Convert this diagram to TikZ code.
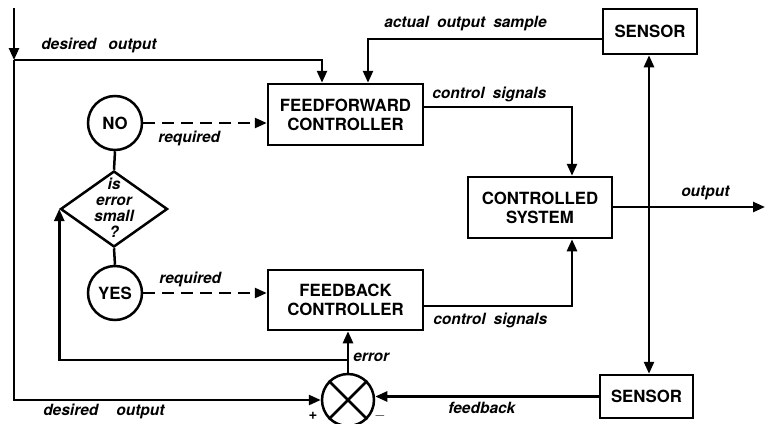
\documentclass[tikz,border=0pt]{standalone}
\usepackage{fontspec}
\setmainfont{TeX Gyre Heros}
\usetikzlibrary{arrows.meta,shapes.geometric,calc}
\newcommand\mywordsp{\spaceskip=8pt\relax}
\begin{document}
\begin{tikzpicture}[x=1pt,y=-1pt, line width=2.5pt,
  box/.style={draw, rectangle, inner sep=0pt, font=\fontsize{16.8}{19}\selectfont\bfseries, align=center},
  circ/.style={draw, circle, minimum size=54pt, inner sep=0pt, font=\fontsize{16.8}{19}\selectfont\bfseries},
  lbl/.style={inner sep=0pt, font=\fontsize{15.5}{16}\selectfont\bfseries\itshape\mywordsp},
  tip/.tip={Triangle[length=12pt,width=10pt]},
  arr/.style={-tip},
  darr/.style={tip-tip},
  dsh/.style={dash pattern=on 12pt off 7pt}]
\useasboundingbox (0,0) rectangle (765,423);
% blocks
\node[box, minimum width=155pt, minimum height=61pt] (ff) at (345.5,114.5) {FEEDFORWARD\\CONTROLLER};
\node[box, minimum width=155pt, minimum height=60pt] (fb) at (345.5,300) {FEEDBACK\\CONTROLLER};
\node[box, minimum width=144pt, minimum height=61pt] (cs) at (540,207.5) {CONTROLLED\\SYSTEM};
\node[box, minimum width=94pt, minimum height=45pt] (st) at (650,31.5) {SENSOR};
\node[box, minimum width=93pt, minimum height=43pt] (sb) at (646.5,396.5) {SENSOR};
\node[circ] (no) at (115,123) {NO};
\node[circ] (yes) at (115,293) {YES};
\node[diamond, draw, minimum width=107pt, minimum height=76pt, inner sep=0pt] (dia) at (114,209) {};
\node[inner sep=0pt, align=center, font=\fontsize{15.5}{16}\selectfont\bfseries\itshape] (diat) at (114,208) {is\\error\\small\\?};
\node[draw, circle, minimum size=52pt, inner sep=0pt] (sum) at (348,400) {};
\draw (sum.north west) -- (sum.south east);
\draw (sum.north east) -- (sum.south west);
% coordinates
\coordinate (top) at (14,8);
\coordinate (j1) at (14,60);
\coordinate (j2) at (14,400);
\coordinate (d1) at (322,60);
\coordinate (a1) at (368,39);
\coordinate (c1) at (572,107);
\coordinate (c2) at (572,306);
\coordinate (out) at (765,207);
\coordinate (v) at (649,0);
\coordinate (e1) at (348,360);
% connectors
\draw[arr] (top) -- (j1);
\draw[arr] (j1) -- (d1) -- (d1 |- ff.north);
\draw[arr] (st.west |- a1) -- (a1) -- (a1 |- ff.north);
\draw[arr] (j1) -- (j2) -- (sum.west);
\draw[arr, dsh] (no.east) -- (ff.west |- no.east);
\draw[arr, dsh] (yes.east) -- (fb.west |- yes.east);
\draw (no.south) -- (dia.north);
\draw (yes.north) -- (dia.south);
\draw[arr] (ff.east |- c1) -- (c1) -- (c1 |- cs.north);
\draw[arr] (fb.east |- c2) -- (c2) -- (c2 |- cs.south);
\draw[arr] (cs.east |- out) -- (out);
\draw[darr] (v |- st.south) -- (v |- sb.north);
\draw[arr] (sb.west) -- (sb.west -| sum.east);
\draw[arr] (sum.north) -- (sum.north |- fb.south);
\draw[arr] (e1) -| (dia.west);
% labels
\node[lbl, anchor=west] (l1) at (40,45) {desired\hspace{12pt}output};
\node[lbl, anchor=west] (l2) at (383,24) {actual output sample};
\node[lbl, anchor=west] (l3) at (431,94) {control signals};
\node[lbl, anchor=west] (l4) at (157,138) {required};
\node[lbl, anchor=west] (l5) at (158,279) {required};
\node[lbl, anchor=west] (l6) at (680,193) {output};
\node[lbl, anchor=west] (l7) at (432,320) {control signals};
\node[lbl, anchor=west] (l8) at (352,357) {error};
\node[lbl, anchor=west] (l9) at (447,408) {feedback};
\node[lbl, anchor=west] (l10) at (42,411) {desired\hspace{18pt}output};
\node[inner sep=0pt, font=\fontsize{15}{16}\selectfont\bfseries] (plus) at (313,416) {+};
\node[inner sep=0pt, font=\fontsize{15}{16}\selectfont\bfseries] (minus) at (380,416) {$-$};
\end{tikzpicture}
\end{document}
